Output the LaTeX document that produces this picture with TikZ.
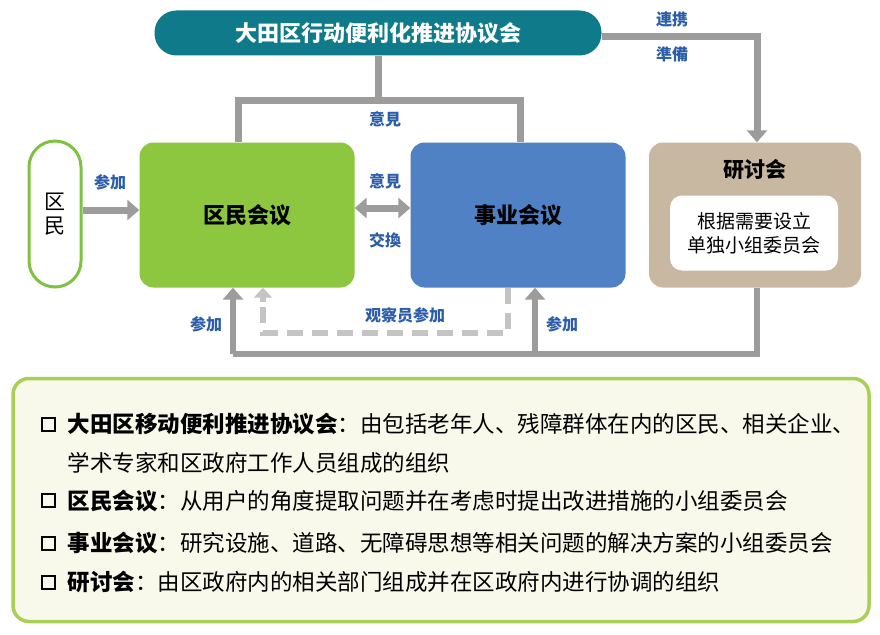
\documentclass[tikz,border=0pt]{standalone}
\usepackage{fontspec}
\setmainfont{Noto Sans CJK SC}
\usetikzlibrary{arrows.meta}
\definecolor{teal1}{HTML}{0E7A8A}
\definecolor{gr}{HTML}{8DC63F}
\definecolor{grb}{HTML}{7DC243}
\definecolor{bl}{HTML}{4F81C4}
\definecolor{tan}{HTML}{C8B8A2}
\definecolor{lbl}{HTML}{2B5DA8}
\definecolor{ln}{HTML}{9C9C9C}
\definecolor{lnl}{HTML}{C4C4C4}
\definecolor{bg}{HTML}{F8F9EA}
\definecolor{bgb}{HTML}{A9CF54}
\tikzset{
 conn/.style={draw=ln,line width=7pt},
 arr/.style={conn,-{Triangle[length=12pt,width=20pt]}},
 lab/.style={text=lbl,font=\bfseries\fontsize{16}{18}\selectfont},
 box/.style={rounded corners=14pt,minimum width=215pt,minimum height=145pt,font=\bfseries\fontsize{22}{26}\selectfont},
 txt/.style={anchor=west,font=\fontsize{22.5}{26}\selectfont},
}
\begin{document}
\begin{tikzpicture}[x=1pt,y=-1pt]
\useasboundingbox[fill=white] (0,0) rectangle (880,634);
% nodes
\node[fill=teal1,rounded corners=22pt,minimum width=447pt,minimum height=45pt,text=white,font=\bfseries\fontsize{22}{26}\selectfont] (top) at (378,33) {大田区行动便利化推进协议会};
\node[draw=grb,line width=3pt,fill=white,rounded corners=26pt,minimum width=52pt,minimum height=146pt,align=center,font=\fontsize{21}{24}\selectfont] (res) at (55,214) {区\\民};
\node[box,fill=gr] (kmk) at (247,215) {区民会议};
\node[box,fill=bl] (jgk) at (518,215) {事业会议};
\node[box,fill=tan,minimum width=212pt] (ken) at (755,215) {};
\node[font=\bfseries\fontsize{21}{24}\selectfont] (kent) at (755,170) {研讨会};
\node[fill=white,rounded corners=12pt,minimum width=168pt,minimum height=75pt,align=center,font=\fontsize{19}{24}\selectfont] (kenin) at (754,233) {根据需要设立\\单独小组委员会};
% coordinates
\coordinate (a1) at (378,100);
\coordinate (a2) at (238,100);
\coordinate (a3) at (520,100);
\coordinate (r1) at (757,37);
\coordinate (b1) at (757,354);
\coordinate (b2) at (233,354);
\coordinate (b3) at (535,354);
\coordinate (d1) at (508,333);
\coordinate (d2) at (263,333);
\coordinate (d3) at (263,302);
% top connectors
\draw[conn] (top.south -| a1) -- (a1);
\draw[conn] (kmk.north -| a2) -- (a2) -- (a3) -- (jgk.north -| a3);
\draw[arr] (top.east |- r1) -- (r1) -- (ken.north -| r1);
\draw[arr] (res.east |- 0,210) -- (kmk.west |- 0,210);
\draw[conn,{Triangle[length=12pt,width=20pt]}-{Triangle[length=12pt,width=20pt]}] (kmk.east |- 0,208) -- (jgk.west |- 0,208);
% bottom
\draw[conn,line width=6pt] (ken.south -| b1) -- (b1) -- (b2);
\draw[arr,line width=6pt] (b2) -- (kmk.south -| b2);
\draw[arr,line width=6pt] (b3) -- (jgk.south -| b3);
\draw[draw=lnl,line width=6pt,dash pattern=on 16pt off 9pt] (jgk.south -| d1) -- (d1) -- (d2) -- (d3);
\draw[draw=lnl,line width=6pt,-{Triangle[length=10pt,width=18pt]}] (d3) -- (kmk.south -| d2);
% labels
\node[lab] at (385,119) {意見};
\node[lab] at (672,19) {連携};
\node[lab] at (672,54) {準備};
\node[lab] at (110,182) {参加};
\node[lab] at (385,181) {意見};
\node[lab] at (385,240) {交換};
\node[lab] at (206,324) {参加};
\node[lab] at (562,324) {参加};
\node[lab] at (405,315) {观察员参加};
% legend
\node[draw=bgb,fill=bg,line width=3.5pt,rounded corners=16pt,minimum width=856pt,minimum height=243pt] (leg) at (441,500) {};
\foreach \y in {424,500,543,582} \draw[line width=2.2pt] (42,\y-6) rectangle (55,\y+7);
\node[txt] at (64,424) {\textbf{大田区移动便利推进协议会}：由包括老年人、残障群体在内的区民、相关企业、};
\node[txt] at (64,463) {学术专家和区政府工作人员组成的组织};
\node[txt] at (64,501) {\textbf{区民会议}：从用户的角度提取问题并在考虑时提出改进措施的小组委员会};
\node[txt] at (64,543) {\textbf{事业会议}：研究设施、道路、无障碍思想等相关问题的解决方案的小组委员会};
\node[txt] at (64,582) {\textbf{研讨会}：由区政府内的相关部门组成并在区政府内进行协调的组织};
\end{tikzpicture}
\end{document}
